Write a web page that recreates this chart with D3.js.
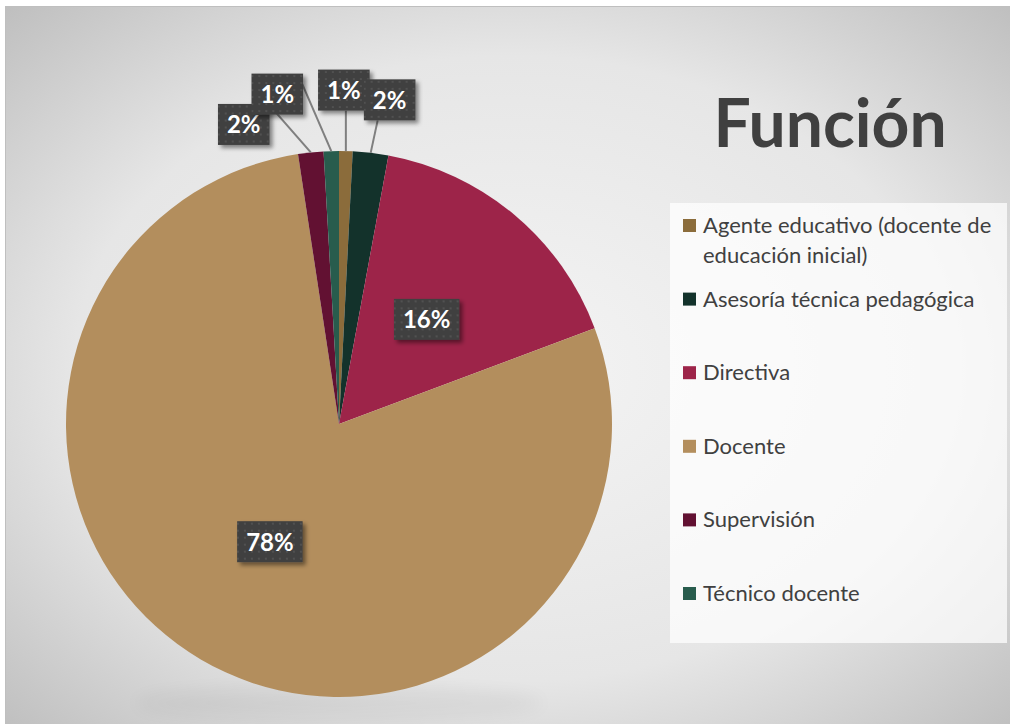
<!DOCTYPE html>
<html>
<meta charset="utf-8">
<style>
  body { margin: 0; background: #fff; }
  svg { display: block; }
</style>
<body>
<div id="chart"></div>
<script src="https://d3js.org/d3.v7.min.js"></script>
<script>

// data (percent of total)
var categories = ["Agente educativo (docente de educación inicial)", "Asesoría técnica pedagógica",
                  "Directiva", "Docente", "Supervisión", "Técnico docente"]
var shares = [0.8, 2.1, 16.4, 78.3, 1.5, 0.9]
var labels = ["1%", "2%", "16%", "78%", "2%", "1%"]
var legendLines = [["Agente educativo (docente de", "educación inicial)"], ["Asesoría técnica pedagógica"],
                   ["Directiva"], ["Docente"], ["Supervisión"], ["Técnico docente"]]
var colors = ["#8b6c3b", "#13322b", "#9d2449", "#b38e5d", "#621132", "#285c4d"]

// callout placement for the thin slices (box offset from arc edge, leader anchor on box)
var callouts = {
  0: {off: [-2, -61], anchor: [2, 20.5]},
  1: {off: [19, -53], anchor: [-12, 20.5]},
  4: {off: [-67, -28], anchor: [25, -20]},
  5: {off: [-54, -57], anchor: [25, -10]}
}

var W = 1010, H = 724
var cx = 339, cy = 424, radius = 273

var svg = d3.select("#chart").append("svg")
    .attr("width", W).attr("height", H)

var defs = svg.append("defs")

var bg = defs.append("radialGradient").attr("id", "bg")
    .attr("cx", "0.5").attr("cy", "0.5").attr("r", "0.72")
bg.append("stop").attr("offset", "0").attr("stop-color", "#f4f4f4")
bg.append("stop").attr("offset", "0.6").attr("stop-color", "#e6e6e6")
bg.append("stop").attr("offset", "1").attr("stop-color", "#bdbdbd")

var pat = defs.append("pattern").attr("id", "dots")
    .attr("patternUnits", "userSpaceOnUse").attr("width", 7).attr("height", 7)
pat.append("rect").attr("width", 7).attr("height", 7).attr("fill", "#404040")
pat.append("rect").attr("x", 2).attr("y", 2).attr("width", 2).attr("height", 2).attr("fill", "#515151")

defs.append("filter").attr("id", "shadow").attr("x", "-20%").attr("y", "-20%")
    .attr("width", "150%").attr("height", "150%")
  .append("feDropShadow")
    .attr("dx", 3).attr("dy", 3).attr("stdDeviation", 2.2)
    .attr("flood-color", "#000").attr("flood-opacity", 0.45)

defs.append("filter").attr("id", "blur").attr("x", "-50%").attr("y", "-100%")
    .attr("width", "200%").attr("height", "300%")
  .append("feGaussianBlur").attr("stdDeviation", 9)

// chart area
svg.append("rect")
    .attr("x", 5.5).attr("y", 6.5).attr("width", W).attr("height", H)
    .attr("fill", "url(#bg)").attr("stroke", "#bfbfbf").attr("stroke-width", 1)

// soft shadow under the pie
svg.append("ellipse")
    .attr("cx", cx).attr("cy", cy + radius + 6).attr("rx", radius * 0.75).attr("ry", 16)
    .attr("fill", "#000").attr("opacity", 0.045).attr("filter", "url(#blur)")

var pie = d3.pie().sort(null).value(function(d) { return d })
var arcs = pie(shares)
var arc = d3.arc().innerRadius(0).outerRadius(radius)

var g = svg.append("g").attr("transform", "translate(" + cx + "," + cy + ")")

g.selectAll("path.slice")
  .data(arcs)
  .enter().append("path")
    .attr("class", "slice")
    .attr("d", arc)
    .attr("fill", function(d, i) { return colors[i] })

// label positions
var labelPos = arcs.map(function(d, i) {
  var c = callouts[i]
  if (!c) {
    var p = arc.centroid(d)
    return {x: p[0], y: p[1]}
  }
  var mid = (d.startAngle + d.endAngle) / 2
  var ex = Math.sin(mid) * radius, ey = -Math.cos(mid) * radius
  return {x: ex + c.off[0], y: ey + c.off[1], ex: ex, ey: ey,
          ax: ex + c.off[0] + c.anchor[0], ay: ey + c.off[1] + c.anchor[1]}
})

// leader lines
Object.keys(callouts).forEach(function(k) {
  var p = labelPos[k]
  g.append("line")
    .attr("x1", p.ex).attr("y1", p.ey)
    .attr("x2", p.ax).attr("y2", p.ay)
    .attr("stroke", "#7f7f7f").attr("stroke-width", 2)
})

// label boxes
var drawOrder = [2, 3, 4, 5, 0, 1]
drawOrder.forEach(function(i) {
  var p = labelPos[i]
  var lg = g.append("g").attr("transform", "translate(" + p.x + "," + p.y + ")")
  var box = lg.append("rect").attr("fill", "url(#dots)").attr("filter", "url(#shadow)")
  var t = lg.append("text")
      .attr("text-anchor", "middle").attr("y", 9)
      .style("font-family", "Lato, 'Open Sans', sans-serif")
      .style("font-weight", "bold").style("font-size", "24px")
      .attr("fill", "#fff")
      .text(labels[i])
  var w = Math.max(50, t.node().getComputedTextLength() + 18)
  box.attr("x", -w / 2).attr("y", -20.5).attr("width", w).attr("height", 41)
})

// title
svg.append("text")
    .attr("x", 830).attr("y", 147)
    .attr("text-anchor", "middle")
    .style("font-family", "Lato, 'Open Sans', sans-serif")
    .style("font-weight", "bold").style("font-size", "66px")
    .attr("fill", "#404040")
    .text("Función")

// legend
var legend = svg.append("g")
legend.append("rect")
    .attr("x", 670).attr("y", 203).attr("width", 337).attr("height", 440)
    .attr("fill", "#fff").attr("opacity", 0.72)

var items = legend.selectAll("g.item")
  .data(categories)
  .enter().append("g")
    .attr("class", "item")
    .attr("transform", function(d, i) { return "translate(683," + (233 + i * 73.6) + ")" })

items.append("rect")
    .attr("x", 0).attr("y", -14).attr("width", 13).attr("height", 13)
    .attr("fill", function(d, i) { return colors[i] })

items.append("text")
    .style("font-family", "Lato, 'Open Sans', sans-serif")
    .style("font-size", "22px")
    .attr("fill", "#404040")
  .selectAll("tspan")
  .data(function(d, i) { return legendLines[i] })
  .enter().append("tspan")
    .attr("x", 20)
    .attr("y", function(d, j) { return j * 30 })
    .text(function(d) { return d })

</script>
</body>
</html>
